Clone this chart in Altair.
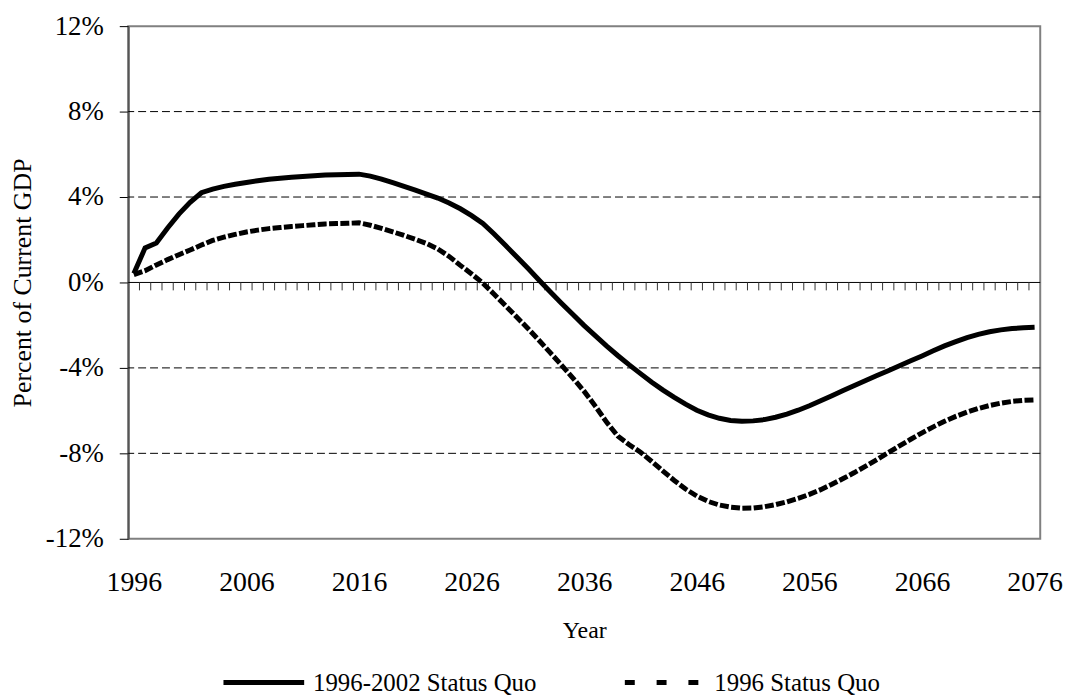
import altair as alt
import pandas as pd

years = list(range(1996, 2077))

quo_1996_2002 = [
    0.42, 1.62, 1.85, 2.55, 3.20, 3.75, 4.20, 4.37, 4.50, 4.60,   # 1996-2005
    4.68, 4.76, 4.83, 4.88, 4.93, 4.96, 5.00, 5.03, 5.04, 5.05,   # 2006-2015
    5.07, 4.98, 4.84, 4.67, 4.50, 4.32, 4.14, 3.95, 3.72, 3.45,   # 2016-2025
    3.13, 2.76, 2.27, 1.74, 1.20, 0.66, 0.10, -0.45, -0.98, -1.50,  # 2026-2035
    -2.02, -2.50, -2.98, -3.43, -3.86, -4.27, -4.67, -5.04, -5.38, -5.70,  # 2036-2045
    -5.98, -6.20, -6.36, -6.46, -6.50, -6.48, -6.42, -6.31, -6.16, -5.98,  # 2046-2055
    -5.77, -5.54, -5.30, -5.06, -4.82, -4.59, -4.36, -4.13, -3.90, -3.67,  # 2056-2065
    -3.44, -3.20, -2.97, -2.77, -2.58, -2.43, -2.31, -2.22, -2.16, -2.12,  # 2066-2075
    -2.10,                                                                # 2076
]

quo_1996 = [
    0.37, 0.55, 0.82, 1.07, 1.30, 1.52, 1.75, 1.97, 2.12, 2.25,
    2.36, 2.45, 2.52, 2.57, 2.62, 2.66, 2.70, 2.74, 2.76, 2.77,
    2.79, 2.68, 2.53, 2.37, 2.20, 2.02, 1.82, 1.57, 1.22, 0.80,
    0.40, -0.03, -0.55, -1.08, -1.62, -2.15, -2.72, -3.30, -3.88, -4.48,
    -5.10, -5.80, -6.55, -7.20, -7.60, -7.95, -8.38, -8.83, -9.27, -9.67,
    -10.00, -10.25, -10.42, -10.52, -10.57, -10.56, -10.50, -10.40, -10.27, -10.11,
    -9.92, -9.70, -9.45, -9.18, -8.90, -8.60, -8.29, -7.97, -7.65, -7.34,
    -7.04, -6.76, -6.50, -6.27, -6.07, -5.90, -5.76, -5.65, -5.57, -5.52,
    -5.50,
]

series_names = ["1996-2002 Status Quo", "1996 Status Quo"]
y_ticks = [-12, -8, -4, 0, 4, 8, 12]
grid_levels = [-8, -4, 4, 8]
x_labels = [1996, 2006, 2016, 2026, 2036, 2046, 2056, 2066, 2076]

FONT = "Liberation Serif"

rows = []
for name, vals in zip(series_names, [quo_1996_2002, quo_1996]):
    for yr, v in zip(years, vals):
        rows.append({"Year": yr, "Value": v, "Series": name})
df = pd.DataFrame(rows)

# category boundaries (Excel-style tick marks between years, hanging below the 0% line)
bounds = pd.DataFrame({"b": [y + 0.5 for y in years[:-1]]})
bounds["t0"] = 0.0
bounds["t1"] = -0.37
grid_df = pd.DataFrame({"g": grid_levels})
zero_df = pd.DataFrame({"z": [0.0]})

x_scale = alt.Scale(domain=[years[0] - 0.5, years[-1] + 0.5], nice=False, zero=False)
y_scale = alt.Scale(domain=[y_ticks[0], y_ticks[-1]], nice=False, zero=False)

x_axis = alt.Axis(
    values=x_labels,
    format="d",
    ticks=False,
    domain=False,
    grid=False,
    labelFontSize=28,
    labelPadding=30,
    labelOverlap=False,
    labelFlush=False,
    title="Year",
    titleFontSize=24,
    titlePadding=22,
)
y_axis = alt.Axis(
    values=y_ticks,
    labelExpr="datum.value + '%'",
    grid=False,
    tickSize=9,
    tickColor="black",
    domainColor="#555",
    domainWidth=2,
    labelFontSize=27,
    labelPadding=16,
    title="Percent of Current GDP",
    titleFontSize=26,
    titlePadding=10,
)

grid = alt.Chart(grid_df).mark_rule(color="black", strokeWidth=1, strokeDash=[8, 4]).encode(
    y=alt.Y("g:Q", scale=y_scale, axis=y_axis)
)

zero = alt.Chart(zero_df).mark_rule(color="black", strokeWidth=1).encode(
    y=alt.Y("z:Q", scale=y_scale, axis=y_axis)
)

ticks = alt.Chart(bounds).mark_rule(color="#333", strokeWidth=1).encode(
    x=alt.X("b:Q", scale=x_scale, axis=x_axis),
    y=alt.Y("t0:Q", scale=y_scale, axis=y_axis),
    y2="t1:Q",
)

legend = alt.Legend(
    title=None,
    orient="none",
    legendX=93,
    legendY=617,
    direction="horizontal",
    symbolType="stroke",
    symbolSize=6600,
    symbolStrokeWidth=5,
    symbolStrokeColor="black",
    labelFont=FONT,
    labelFontSize=25,
    labelColor="black",
    labelLimit=500,
    labelOffset=6,
    columnPadding=78,
    padding=0,
    symbolOffset=0,
)

x_enc = alt.X("Year:Q", scale=x_scale, axis=x_axis)
y_enc = alt.Y("Value:Q", scale=y_scale, axis=y_axis)

base = alt.Chart(df)

solid_line = base.transform_filter(alt.datum.Series == series_names[0]).mark_line(
    color="black", strokeWidth=5
).encode(x=x_enc, y=y_enc)

dashed_line = base.transform_filter(alt.datum.Series == series_names[1]).mark_line(
    color="black", strokeWidth=5, strokeDash=[9, 2.4]
).encode(x=x_enc, y=y_enc)

# layer with no rows that only supplies the legend (Excel-style legend dashes)
legend_layer = base.transform_filter("datum.Year < 0").mark_line(
    color="black", strokeWidth=5
).encode(
    x=x_enc,
    y=y_enc,
    strokeDash=alt.StrokeDash(
        "Series:N",
        scale=alt.Scale(domain=series_names, range=[[1, 0], [10, 22]]),
        legend=legend,
    ),
)

chart = (
    alt.layer(grid, zero, ticks, legend_layer, solid_line, dashed_line)
    .properties(
        width=918,
        height=516,
        autosize=alt.AutoSizeParams(type="none"),
        padding={"left": 121, "top": 16, "right": 34, "bottom": 156},
    )
    .configure_view(stroke="#808080", strokeWidth=2)
    .configure_axis(
        labelFont=FONT,
        titleFont=FONT,
        labelColor="black",
        titleColor="black",
        titleFontWeight="normal",
    )
)

chart.save("out.html", embed_options={"renderer": "svg", "actions": False})
